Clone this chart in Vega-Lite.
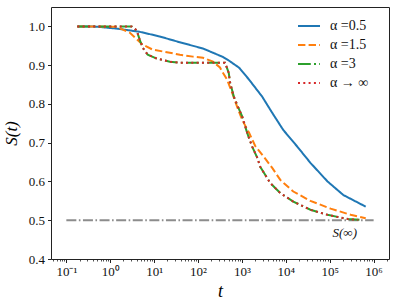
{
  "$schema": "https://vega.github.io/schema/vega-lite/v6.json",
  "autosize": "none",
  "width": 338,
  "height": 252,
  "padding": {"left": 51, "top": 7, "right": 7, "bottom": 45},
  "background": "white",
  "config": {
    "view": {"stroke": "#222", "strokeWidth": 1},
    "font": "Liberation Serif",
    "axis": {"labelFont": "Liberation Serif", "titleFont": "Liberation Serif", "labelColor": "#111", "tickColor": "#222", "grid": false, "domain": false}
  },
  "datasets": {
    "curves": [
      {"series": "α =0.5", "t": 0.178, "S": 1.0},
      {"series": "α =0.5", "t": 0.5, "S": 0.9993},
      {"series": "α =0.5", "t": 1.469, "S": 0.994},
      {"series": "α =0.5", "t": 4.68, "S": 0.986},
      {"series": "α =0.5", "t": 13.43, "S": 0.974},
      {"series": "α =0.5", "t": 38.5, "S": 0.959},
      {"series": "α =0.5", "t": 65.3, "S": 0.952},
      {"series": "α =0.5", "t": 129.4, "S": 0.943},
      {"series": "α =0.5", "t": 219, "S": 0.932},
      {"series": "α =0.5", "t": 371.5, "S": 0.921},
      {"series": "α =0.5", "t": 501, "S": 0.912},
      {"series": "α =0.5", "t": 871, "S": 0.893},
      {"series": "α =0.5", "t": 1445, "S": 0.863},
      {"series": "α =0.5", "t": 2884, "S": 0.819},
      {"series": "α =0.5", "t": 4898, "S": 0.777},
      {"series": "α =0.5", "t": 8710, "S": 0.733},
      {"series": "α =0.5", "t": 18197, "S": 0.690},
      {"series": "α =0.5", "t": 36308, "S": 0.648},
      {"series": "α =0.5", "t": 89125, "S": 0.600},
      {"series": "α =0.5", "t": 204174, "S": 0.565},
      {"series": "α =0.5", "t": 660693, "S": 0.535},
      {"series": "α =1.5", "t": 0.178, "S": 1.0},
      {"series": "α =1.5", "t": 1.393, "S": 0.999},
      {"series": "α =1.5", "t": 2.767, "S": 0.984},
      {"series": "α =1.5", "t": 5.48, "S": 0.953},
      {"series": "α =1.5", "t": 9.29, "S": 0.940},
      {"series": "α =1.5", "t": 22.75, "S": 0.932},
      {"series": "α =1.5", "t": 38.5, "S": 0.927},
      {"series": "α =1.5", "t": 76.4, "S": 0.922},
      {"series": "α =1.5", "t": 129.4, "S": 0.919},
      {"series": "α =1.5", "t": 219, "S": 0.909},
      {"series": "α =1.5", "t": 316, "S": 0.894},
      {"series": "α =1.5", "t": 352, "S": 0.884},
      {"series": "α =1.5", "t": 457, "S": 0.863},
      {"series": "α =1.5", "t": 597, "S": 0.829},
      {"series": "α =1.5", "t": 776, "S": 0.793},
      {"series": "α =1.5", "t": 1012, "S": 0.759},
      {"series": "α =1.5", "t": 1462, "S": 0.725},
      {"series": "α =1.5", "t": 1995, "S": 0.692},
      {"series": "α =1.5", "t": 3236, "S": 0.662},
      {"series": "α =1.5", "t": 4898, "S": 0.635},
      {"series": "α =1.5", "t": 7482, "S": 0.604},
      {"series": "α =1.5", "t": 14791, "S": 0.574},
      {"series": "α =1.5", "t": 36308, "S": 0.550},
      {"series": "α =1.5", "t": 104713, "S": 0.530},
      {"series": "α =1.5", "t": 299226, "S": 0.514},
      {"series": "α =1.5", "t": 660693, "S": 0.505},
      {"series": "α =3", "t": 0.178, "S": 1.0},
      {"series": "α =3", "t": 3.07, "S": 1.0},
      {"series": "α =3", "t": 3.98, "S": 0.990},
      {"series": "α =3", "t": 4.68, "S": 0.966},
      {"series": "α =3", "t": 5.48, "S": 0.945},
      {"series": "α =3", "t": 7.13, "S": 0.927},
      {"series": "α =3", "t": 11.48, "S": 0.917},
      {"series": "α =3", "t": 22.75, "S": 0.909},
      {"series": "α =3", "t": 38.5, "S": 0.906},
      {"series": "α =3", "t": 413, "S": 0.906},
      {"series": "α =3", "t": 501, "S": 0.880},
      {"series": "α =3", "t": 537, "S": 0.855},
      {"series": "α =3", "t": 653, "S": 0.819},
      {"series": "α =3", "t": 776, "S": 0.798},
      {"series": "α =3", "t": 1012, "S": 0.768},
      {"series": "α =3", "t": 1318, "S": 0.725},
      {"series": "α =3", "t": 1710, "S": 0.690},
      {"series": "α =3", "t": 2239, "S": 0.661},
      {"series": "α =3", "t": 2606, "S": 0.638},
      {"series": "α =3", "t": 4416, "S": 0.596},
      {"series": "α =3", "t": 7482, "S": 0.570},
      {"series": "α =3", "t": 14791, "S": 0.548},
      {"series": "α =3", "t": 36308, "S": 0.527},
      {"series": "α =3", "t": 89125, "S": 0.514},
      {"series": "α =3", "t": 257040, "S": 0.503},
      {"series": "α =3", "t": 501187, "S": 0.501},
      {"series": "α → ∞", "t": 0.178, "S": 1.0},
      {"series": "α → ∞", "t": 3.07, "S": 1.0},
      {"series": "α → ∞", "t": 3.98, "S": 0.990},
      {"series": "α → ∞", "t": 4.68, "S": 0.966},
      {"series": "α → ∞", "t": 5.48, "S": 0.945},
      {"series": "α → ∞", "t": 7.13, "S": 0.927},
      {"series": "α → ∞", "t": 11.48, "S": 0.917},
      {"series": "α → ∞", "t": 22.75, "S": 0.909},
      {"series": "α → ∞", "t": 38.5, "S": 0.906},
      {"series": "α → ∞", "t": 413, "S": 0.906},
      {"series": "α → ∞", "t": 501, "S": 0.880},
      {"series": "α → ∞", "t": 537, "S": 0.855},
      {"series": "α → ∞", "t": 653, "S": 0.819},
      {"series": "α → ∞", "t": 776, "S": 0.798},
      {"series": "α → ∞", "t": 1012, "S": 0.768},
      {"series": "α → ∞", "t": 1318, "S": 0.725},
      {"series": "α → ∞", "t": 1710, "S": 0.690},
      {"series": "α → ∞", "t": 2239, "S": 0.661},
      {"series": "α → ∞", "t": 2606, "S": 0.638},
      {"series": "α → ∞", "t": 4416, "S": 0.596},
      {"series": "α → ∞", "t": 7482, "S": 0.570},
      {"series": "α → ∞", "t": 14791, "S": 0.548},
      {"series": "α → ∞", "t": 36308, "S": 0.527},
      {"series": "α → ∞", "t": 89125, "S": 0.514},
      {"series": "α → ∞", "t": 257040, "S": 0.503},
      {"series": "α → ∞", "t": 446684, "S": 0.501}
    ],
    "limit": [
      {"t": 0.1, "S": 0.5},
      {"t": 1000000, "S": 0.5}
    ],
    "label": [
      {"t": 220000, "S": 0.467, "text": "S(∞)"}
    ]
  },
  "encoding": {
    "x": {"field": "t", "type": "quantitative",
      "scale": {"type": "log", "domain": [0.0447, 2240000], "nice": false},
      "axis": {"values": [0.05,0.06,0.07,0.08,0.09,0.1,0.2,0.3,0.4,0.5,0.6,0.7,0.8,0.9,1,2,3,4,5,6,7,8,9,10,20,30,40,50,60,70,80,90,100,200,300,400,500,600,700,800,900,1000,2000,3000,4000,5000,6000,7000,8000,9000,10000,20000,30000,40000,50000,60000,70000,80000,90000,100000,200000,300000,400000,500000,600000,700000,800000,900000,1000000,2000000],
        "labelExpr": "abs(log(datum.value)/LN10 - round(log(datum.value)/LN10)) < 0.001 ? '10' + ['⁻²','⁻¹','⁰','¹','²','³','⁴','⁵','⁶'][round(log(datum.value)/LN10)+2] : ''",
        "tickSize": {"condition": {"test": "abs(log(datum.value)/LN10 - round(log(datum.value)/LN10)) < 0.001", "value": 3.5}, "value": 2},
        "tickWidth": {"condition": {"test": "abs(log(datum.value)/LN10 - round(log(datum.value)/LN10)) < 0.001", "value": 1}, "value": 0.8},
        "labelFontSize": 13, "labelPadding": 3, "labelFlush": false, "labelOverlap": false,
        "title": "t", "titleFontSize": 18, "titleFontStyle": "italic", "titleFontWeight": "normal", "titlePadding": 4}},
    "y": {"field": "S", "type": "quantitative",
      "scale": {"domain": [0.4, 1.05], "nice": false, "zero": false},
      "axis": {"values": [0.4,0.5,0.6,0.7,0.8,0.9,1.0], "format": ".1f", "tickSize": 3.5, "labelFontSize": 13, "labelPadding": 3,
        "title": "S(t)", "titleFontSize": 17, "titleFontStyle": "italic", "titleFontWeight": "normal", "titlePadding": 8}}
  },
  "layer": [
    {
      "data": {"name": "limit"},
      "mark": {"type": "line", "color": "#8c8c8c", "strokeWidth": 1.8, "strokeDash": [10, 2.5, 1.6, 2.5]}
    },
    {
      "data": {"name": "curves"},
      "mark": {"type": "line", "strokeWidth": 2},
      "encoding": {
        "color": {"field": "series", "type": "nominal",
          "scale": {"domain": ["α =0.5", "α =1.5", "α =3", "α → ∞"], "range": ["#1f77b4", "#ff7f0e", "#2ca02c", "#d62728"]},
          "legend": {"orient": "none", "legendX": 246, "legendY": 7, "title": null, "symbolType": "stroke", "symbolStrokeWidth": 2,
            "symbolSize": 484, "labelFontSize": 14, "labelFont": "Liberation Serif", "labelOffset": 9, "rowPadding": -2, "labelColor": "#111"}},
        "strokeDash": {"field": "series", "type": "nominal",
          "scale": {"domain": ["α =0.5", "α =1.5", "α =3", "α → ∞"], "range": [[1, 0], [7.4, 3.2], [12.8, 3.2, 2, 3.2], [2, 3.3]]}},
        "order": {"field": "t", "type": "quantitative"}
      }
    },
    {
      "data": {"name": "label"},
      "mark": {"type": "text", "font": "Liberation Serif", "fontSize": 13, "fontStyle": "italic", "color": "#111"},
      "encoding": {
        "text": {"field": "text"}
      }
    }
  ]
}
